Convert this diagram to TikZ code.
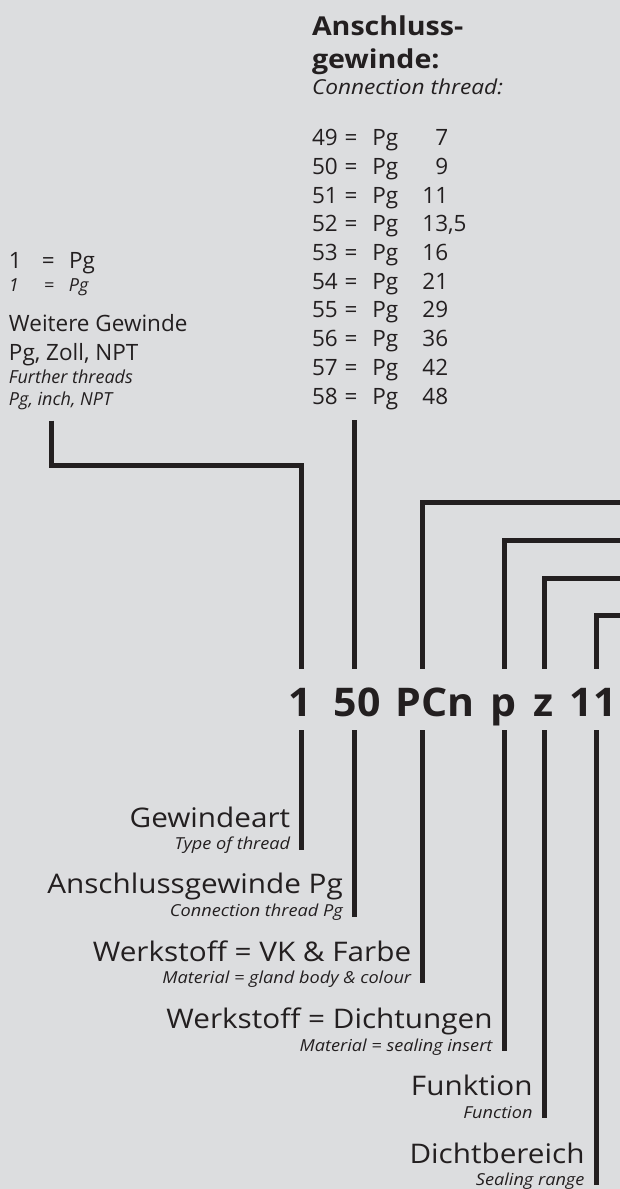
\documentclass[tikz,border=0pt]{standalone}
\usepackage{fontspec}
\setmainfont{Open Sans}
\newfontfamily\widefont{Open Sans}[FakeStretch=1.1]
\newfontfamily\codefont{Open Sans}[FakeStretch=1.04]
\definecolor{bg}{HTML}{DCDDDF}
\definecolor{ink}{HTML}{231F20}
\begin{document}
\begin{tikzpicture}[x=1pt,y=-1pt,
  every node/.style={inner sep=0pt,outer sep=0pt,text=ink},
  lbl/.style={anchor=base east,font=\widefont\fontsize{27}{32}\selectfont},
  sub/.style={anchor=base east,font=\widefont\fontsize{16.5}{20}\selectfont\itshape},
  codepart/.style={anchor=base,font=\codefont\fontsize{39.5}{48}\selectfont\bfseries},
  headbold/.style={anchor=base west,font=\widefont\fontsize{26}{30}\selectfont\bfseries},
  headit/.style={anchor=base west,font=\widefont\fontsize{20.6}{24}\selectfont\itshape},
  listrow/.style={anchor=base west,font=\fontsize{22.5}{26}\selectfont},
  lefttxt/.style={anchor=base west,font=\fontsize{22.5}{26}\selectfont},
  leftit/.style={anchor=base west,font=\fontsize{18}{22}\selectfont\itshape},
  conn/.style={draw=ink,line width=5pt}]
\fill[bg] (0,0) rectangle (620,1189);
\useasboundingbox (0,0) rectangle (620,1189);

% ---------- top right: connection thread list
\node[headbold] (h1) at (312,35) {Anschluss-};
\node[headbold] (h2) at (312,68.3) {gewinde:};
\node[headit] (h3) at (312,94.3) {Connection thread:};
\foreach \n/\v [count=\i from 0] in {49/\hphantom{0}7,50/\hphantom{0}9,51/11,52/{13,5},53/16,54/21,55/29,56/36,57/42,58/48}{
  \node[listrow] (r\n) at (312,145.7+28.7*\i)
    {\makebox[32.7pt][l]{\n}\makebox[27.7pt][l]{=}\makebox[50pt][l]{Pg}\v};
}

% ---------- top left: thread type
\node[lefttxt] (l1) at (9,268) {\makebox[33pt][l]{1}\makebox[27pt][l]{=}Pg};
\node[leftit] (l2) at (9,291.7) {\makebox[35pt][l]{1}\makebox[25pt][l]{=}Pg};
\node[lefttxt] (l3) at (9,331.7) {Weitere Gewinde};
\node[lefttxt] (l4) at (9,360) {Pg, Zoll, NPT};
\node[leftit] (l5) at (9,383) {Further threads};
\node[leftit] (l6) at (9,405) {Pg, inch, NPT};

% ---------- code
\node[codepart] (c1) at (300.3,716.7) {1};
\node[codepart] (c2) at (357.3,716.7) {50};
\node[codepart] (c3) at (434.8,716.7) {PCn};
\node[codepart] (c4) at (503.3,716.7) {p};
\node[codepart] (c5) at (544,716.7) {z};
\node[codepart] (c6) at (593.3,716.7) {11};

% ---------- bottom labels
\node[lbl] (b1) at (290.2,827.3) {Gewindeart};
\node[sub] (s1) at (290.2,849.5) {Type of thread};
\node[lbl] (b2) at (342.8,893.5) {Anschlussgewinde Pg};
\node[sub] (s2) at (342.8,916.8) {Connection thread Pg};
\node[lbl] (b3) at (411.2,961) {Werkstoff = VK \& Farbe};
\node[sub] (s3) at (411.2,983.5) {Material = gland body \& colour};
\node[lbl] (b4) at (492.5,1028.2) {Werkstoff = Dichtungen};
\node[sub] (s4) at (492.5,1051) {Material = sealing insert};
\node[lbl] (b5) at (532.5,1095) {Funktion};
\node[sub] (s5) at (532.5,1118) {Function};
\node[lbl] (b6) at (584.5,1163) {Dichtbereich};
\node[sub] (s6) at (584.5,1185) {Sealing range};

% ---------- connector coordinates
\coordinate (t1) at (51,420.7);   \coordinate (k1) at (51,465);
\coordinate (j1) at (301.7,465);  \coordinate (u1) at (301.7,669);
\coordinate (t2) at (354.3,420);  \coordinate (u2) at (354.3,669);
\coordinate (t3) at (620,502.3);  \coordinate (j3) at (422.7,502.3); \coordinate (u3) at (422.7,669);
\coordinate (t4) at (620,540);    \coordinate (j4) at (504,540);     \coordinate (u4) at (504,669);
\coordinate (t5) at (620,578);    \coordinate (j5) at (544.3,578);   \coordinate (u5) at (544.3,669);
\coordinate (t6) at (620,615.7);  \coordinate (j6) at (596,615.7);   \coordinate (u6) at (596,669);

\coordinate (d1) at (301.7,730);  \coordinate (e1) at (301.7,850);
\coordinate (d2) at (354.3,730);  \coordinate (e2) at (354.3,916.7);
\coordinate (d3) at (422.7,730);  \coordinate (e3) at (422.7,983);
\coordinate (d4) at (504,730);    \coordinate (e4) at (504,1050.7);
\coordinate (d5) at (544.3,730);  \coordinate (e5) at (544.3,1118);
\coordinate (d6) at (596,730);    \coordinate (e6) at (596,1185);

\draw[conn] (t1) -- (k1) -- (j1) -- (u1);
\draw[conn] (t2) -- (u2);
\draw[conn] (t3) -- (j3) -- (u3);
\draw[conn] (t4) -- (j4) -- (u4);
\draw[conn] (t5) -- (j5) -- (u5);
\draw[conn] (t6) -- (j6) -- (u6);

\draw[conn] (d1) -- (e1);
\draw[conn] (d2) -- (e2);
\draw[conn] (d3) -- (e3);
\draw[conn] (d4) -- (e4);
\draw[conn] (d5) -- (e5);
\draw[conn] (d6) -- (e6);
\end{tikzpicture}
\end{document}
